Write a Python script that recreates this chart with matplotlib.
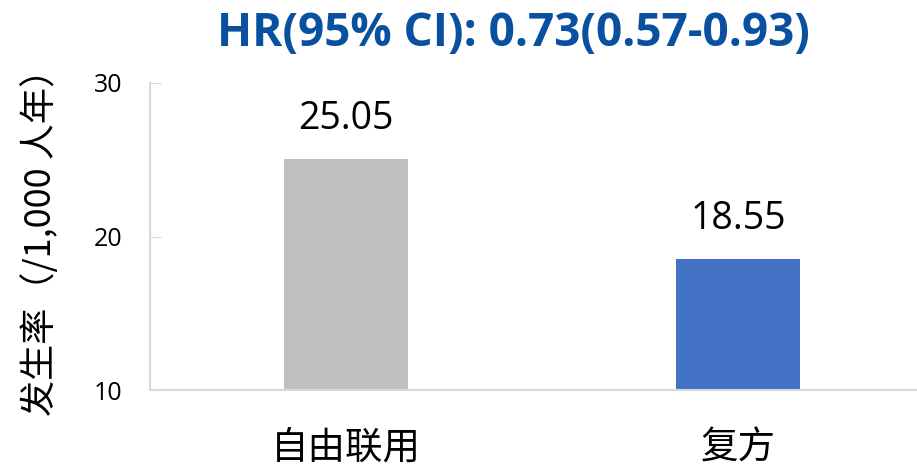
import matplotlib
matplotlib.use("Agg")
import matplotlib.pyplot as plt

plt.rcParams['font.family'] = ['Noto Sans CJK SC', 'DejaVu Sans']

categories = ['自由联用', '复方']
values = [25.05, 18.55]
value_labels = ['25.05', '18.55']
colors = ['#BFBFBF', '#4472C4']
title = 'HR(95% CI): 0.73(0.57-0.93)'
ylabel = '发生率（/1,000 人年）'
yticks = [10, 20, 30]

W, H = 917, 470
fig = plt.figure(figsize=(W / 100, H / 100), dpi=100)
ax = fig.add_axes([150 / W, (H - 390) / H, 784 / W, 307 / H])

x = list(range(len(categories)))
ax.bar(x, values, width=0.314, color=colors, zorder=2)
ax.set_xlim(-0.5, 1.5)
ax.set_ylim(10, 30)
ax.set_yticks(yticks)
ax.set_yticklabels([str(t) for t in yticks], family=['Open Sans', 'DejaVu Sans'])
ax.set_xticks(x)
ax.set_xticklabels(categories, fontsize=27)
ax.tick_params(axis='x', length=0, pad=28)
ax.tick_params(axis='y', direction='in', length=8, color='#D9D9D9', labelsize=18, pad=20)

for s in ['top', 'right']:
    ax.spines[s].set_visible(False)
for s in ['left', 'bottom']:
    ax.spines[s].set_color('#D9D9D9')
    ax.spines[s].set_linewidth(1.5)

for xi, v, lab in zip(x, values, value_labels):
    ax.annotate(lab, (xi, v), xytext=(0, 15), textcoords='offset points',
                ha='center', va='bottom', fontsize=27,
                family=['Open Sans', 'DejaVu Sans'])

fig.text(40 / W, 1 - 233 / H, ylabel, rotation=90, ha='center', va='center',
         fontsize=26)

fig.text(513 / W, 1 - 33 / H, title, ha='center', va='center',
         fontsize=33, fontweight='bold', color='#0A50A0',
         family=['Open Sans', 'DejaVu Sans'])

fig.savefig('out.png', dpi=100)
